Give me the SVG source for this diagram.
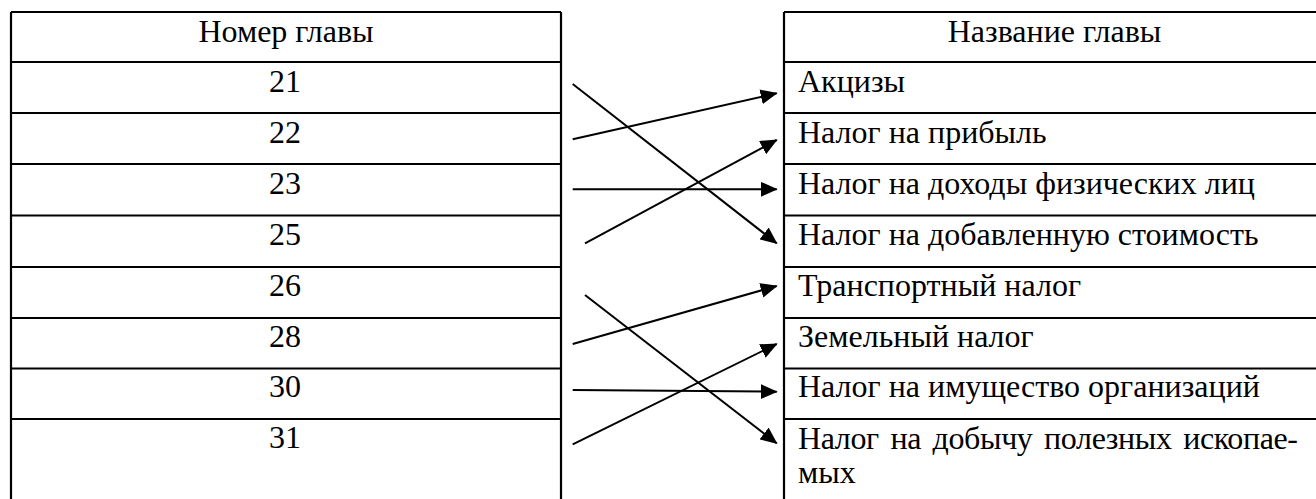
<svg xmlns="http://www.w3.org/2000/svg" width="1316" height="499" viewBox="0 0 1316 499">
<style>
.t{font-family:"Liberation Serif","Times New Roman",serif;font-size:32px;fill:#000}
.c{text-anchor:middle}
.b{stroke:#000;stroke-width:2.2;fill:none}
.a{stroke:#000;stroke-width:2;fill:none;marker-end:url(#ah)}
</style>
<defs>
<marker id="ah" markerUnits="userSpaceOnUse" markerWidth="17" markerHeight="15" refX="16" refY="7.5" orient="auto">
<path d="M0,0 L17,7.5 L0,15 z" fill="#000"/>
</marker>
</defs>
<rect width="1316" height="499" fill="#fff"/>
<g id="left-table">
<path class="b" d="M11,12 V499 M561,12 V499 M11,12 H561 M11,62 H561 M11,113 H561 M11,164 H561 M11,215.5 H561 M11,267 H561 M11,318 H561 M11,368.5 H561 M11,419 H561"/>
<text class="t c" x="286" y="42">Номер главы</text>
<text class="t c" x="285" y="92">21</text>
<text class="t c" x="285" y="143">22</text>
<text class="t c" x="285" y="194">23</text>
<text class="t c" x="285" y="245">25</text>
<text class="t c" x="285" y="296">26</text>
<text class="t c" x="285" y="347">28</text>
<text class="t c" x="285" y="397">30</text>
<text class="t c" x="285" y="448">31</text>
</g>
<g id="right-table">
<path class="b" d="M784,12 V499 M784,12 H1316 M784,62 H1316 M784,113 H1316 M784,164 H1316 M784,215.5 H1316 M784,267 H1316 M784,318 H1316 M784,368.5 H1316 M784,419 H1316"/>
<text class="t c" x="1054.5" y="42">Название главы</text>
<text class="t" x="798" y="92">Акцизы</text>
<text class="t" x="798" y="143">Налог на прибыль</text>
<text class="t" x="798" y="194">Налог на доходы физических лиц</text>
<text class="t" x="798" y="245">Налог на добавленную стоимость</text>
<text class="t" x="798" y="296">Транспортный налог</text>
<text class="t" x="798" y="347">Земельный налог</text>
<text class="t" x="798" y="397">Налог на имущество организаций</text>
<text class="t" x="798" y="449" textLength="500" lengthAdjust="spacing" word-spacing="4">Налог на добычу полезных ископае-</text>
<text class="t" x="798" y="483">мых</text>
</g>
<g id="connectors">
<line class="a" x1="572.7" y1="84" x2="776.7" y2="243.3"/>
<line class="a" x1="572.7" y1="139.3" x2="776.7" y2="93.3"/>
<line class="a" x1="572.7" y1="189.3" x2="776.7" y2="189.3"/>
<line class="a" x1="585" y1="243.3" x2="776.7" y2="140"/>
<line class="a" x1="585" y1="295" x2="776.7" y2="443.3"/>
<line class="a" x1="572.7" y1="344" x2="776.7" y2="286"/>
<line class="a" x1="572.7" y1="390" x2="776.7" y2="391.7"/>
<line class="a" x1="572.7" y1="444.3" x2="776.7" y2="344"/>
</g>
</svg>
